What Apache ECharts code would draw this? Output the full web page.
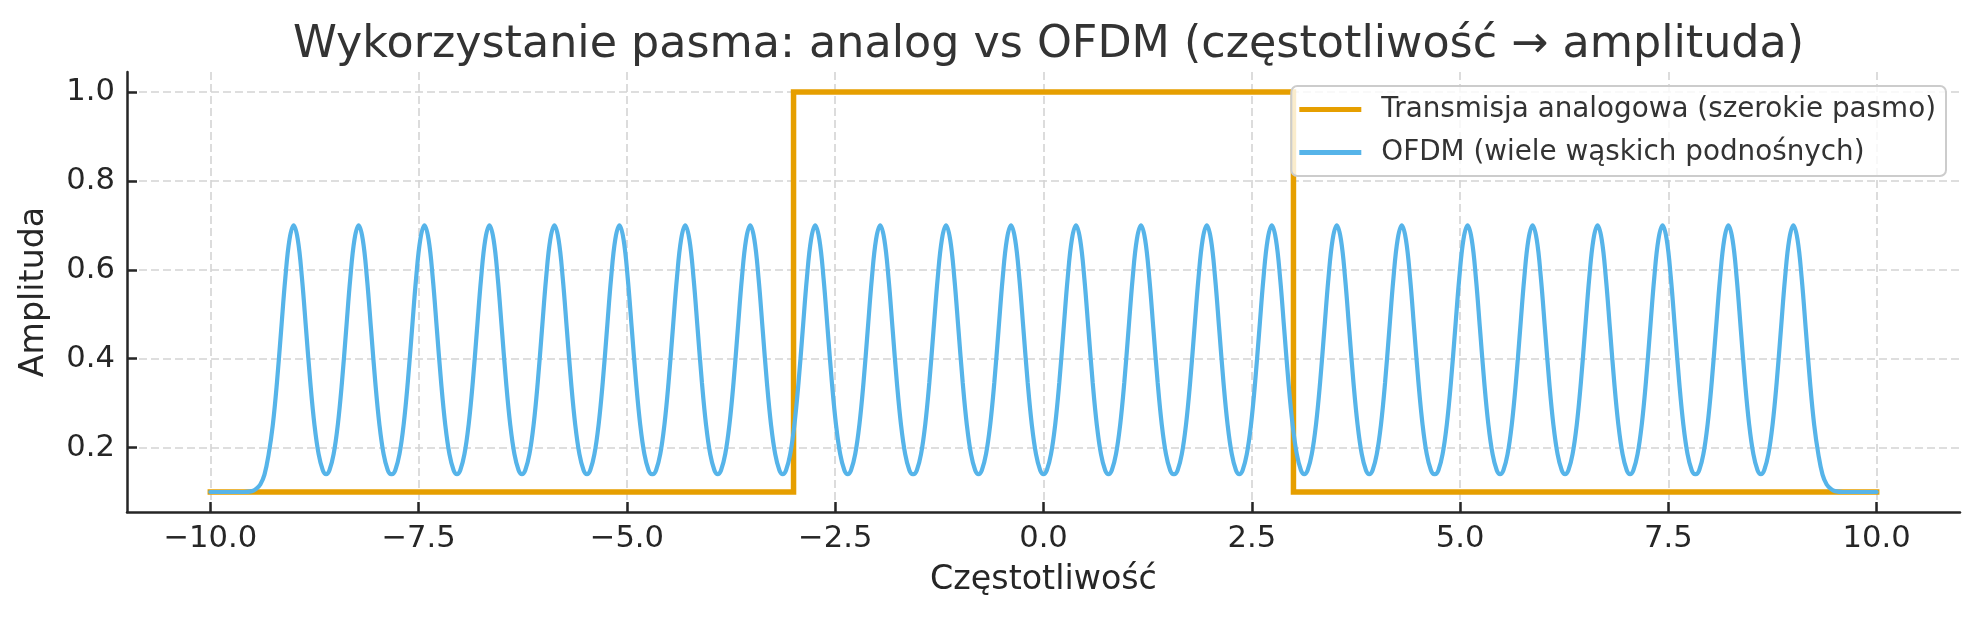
<!DOCTYPE html>
<html>
<head>
<meta charset="utf-8">
<script src="https://cdn.jsdelivr.net/npm/echarts@6/dist/echarts.min.js"></script>
<style>
html,body{margin:0;padding:0;background:#fff;}
#chart{width:1979px;height:619px;}
</style>
</head>
<body>
<div id="chart"></div>
<script>
// ---- data ----
const titleText = 'Wykorzystanie pasma: analog vs OFDM (częstotliwość → amplituda)';
const xLabel = 'Częstotliwość';
const yLabel = 'Amplituda';
const seriesNames = ['Transmisja analogowa (szerokie pasmo)', 'OFDM (wiele wąskich podnośnych)'];

const xTicks = [-10, -7.5, -5, -2.5, 0, 2.5, 5, 7.5, 10];
const yTicks = [0.2, 0.4, 0.6, 0.8, 1.0];

// analog: wide flat band between -3 and 3
const analogX = [-10, -3, -3, 3, 3, 10];
const analogY = [0.1, 0.1, 1.0, 1.0, 0.1, 0.1];

// OFDM: 24 narrow sub-carrier peaks
const ofdmCenters = [-9.00, -8.22, -7.43, -6.65, -5.87, -5.09, -4.30, -3.52, -2.74, -1.96, -1.17, -0.39,
                      0.39, 1.17, 1.96, 2.74, 3.52, 4.30, 5.09, 5.87, 6.65, 7.43, 8.22, 9.00];
// shape of one peak (offset from centre -> amplitude)
const peakDx = [0, 0.05, 0.10, 0.15, 0.20, 0.25, 0.30, 0.35, 0.39];
const peakY  = [0.70, 0.668, 0.581, 0.464, 0.347, 0.251, 0.185, 0.149, 0.140];
// outer flank of the first / last peak down to the floor
const edgeDx = [0.35, 0.40, 0.45, 0.50, 0.60];
const edgeY  = [0.139, 0.117, 0.107, 0.102, 0.100];
const ofdmFloor = 0.1;
const freqMin = -10, freqMax = 10;

// ---- build series tables ----
const analogData = analogX.map((x, i) => [x, analogY[i]]);

function sideProfile(outer) {
  const prof = [];
  for (let k = 0; k < peakDx.length; k++) {
    if (outer && peakDx[k] >= edgeDx[0]) break;
    prof.push([peakDx[k], peakY[k]]);
  }
  if (outer) edgeDx.forEach((d, k) => prof.push([d, edgeY[k]]));
  return prof;
}
const ofdmData = [[freqMin, ofdmFloor]];
ofdmCenters.forEach((c, i) => {
  const left = sideProfile(i === 0).slice().reverse();
  left.forEach(p => ofdmData.push([c - p[0], p[1]]));
  const right = sideProfile(i === ofdmCenters.length - 1).slice(1);
  right.forEach(p => ofdmData.push([c + p[0], p[1]]));
});
ofdmData.push([freqMax, ofdmFloor]);

const fmt = v => (v < 0 ? '\u2212' : '') + Math.abs(v).toFixed(1);
const font = '"DejaVu Sans", sans-serif';
const textDark = '#262626';

const chart = echarts.init(document.getElementById('chart'), null, {renderer: 'canvas'});
chart.setOption({
  backgroundColor: '#ffffff',
  animation: false,
  title: {
    text: titleText,
    left: 1043.5,
    top: 18,
    textAlign: 'center',
    textStyle: {fontFamily: font, fontSize: 44.4, fontWeight: 'normal', color: '#333333'}
  },
  grid: {left: 127, right: 19, top: 72, bottom: 107, containLabel: false},
  legend: {
    orient: 'vertical',
    right: 33,
    top: 86,
    icon: 'rect',
    itemWidth: 62,
    itemHeight: 5,
    itemGap: 10,
    padding: [7, 10, 7, 8],
    backgroundColor: 'rgba(255,255,255,0.8)',
    borderColor: '#cccccc',
    borderWidth: 2,
    borderRadius: 6,
    textStyle: {fontFamily: font, fontSize: 27.8, color: '#333333', padding: [0, 0, 0, 15], lineHeight: 33},
    data: seriesNames
  },
  xAxis: {
    type: 'value',
    min: -11,
    max: 11,
    name: xLabel,
    nameLocation: 'middle',
    nameGap: 52,
    nameTextStyle: {fontFamily: font, fontSize: 33.3, color: textDark},
    axisLine: {show: true, onZero: false, lineStyle: {color: textDark, width: 2.5}},
    axisTick: {show: true, inside: true, length: 10, lineStyle: {color: textDark, width: 2.5}, customValues: xTicks},
    axisLabel: {show: true, margin: 12, fontFamily: font, fontSize: 30.6, color: textDark, customValues: xTicks, formatter: fmt},
    splitLine: {show: true, lineStyle: {color: '#d4d4d4', width: 1.6, type: [8, 4]}}
  },
  yAxis: {
    type: 'value',
    min: 0.055,
    max: 1.045,
    name: yLabel,
    nameLocation: 'middle',
    nameGap: 76,
    nameRotate: 90,
    nameTextStyle: {fontFamily: font, fontSize: 33.3, color: textDark},
    axisLine: {show: true, onZero: false, lineStyle: {color: textDark, width: 2.5}},
    axisTick: {show: true, inside: true, length: 10, lineStyle: {color: textDark, width: 2.5}, customValues: yTicks},
    axisLabel: {show: true, margin: 12, fontFamily: font, fontSize: 30.6, color: textDark, customValues: yTicks, formatter: v => v.toFixed(1)},
    splitLine: {show: true, lineStyle: {color: '#d4d4d4', width: 1.6, type: [8, 4]}}
  },
  series: [
    {
      name: seriesNames[0],
      type: 'line',
      data: analogData,
      showSymbol: false,
      symbol: 'none',
      color: '#E69F00',
      lineStyle: {color: '#E69F00', width: 5.5, cap: 'square', join: 'miter'},
      z: 2
    },
    {
      name: seriesNames[1],
      type: 'line',
      data: ofdmData,
      showSymbol: false,
      symbol: 'none',
      smooth: 0.4,
      color: '#56B4E9',
      lineStyle: {color: '#56B4E9', width: 4.2, cap: 'round'},
      z: 3
    }
  ]
});
</script>
</body>
</html>
